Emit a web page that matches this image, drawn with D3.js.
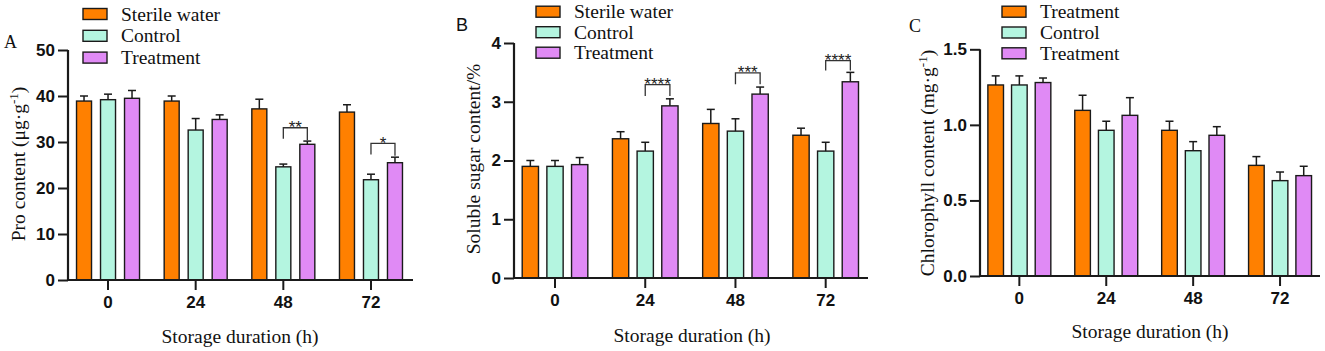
<!DOCTYPE html>
<html><head><meta charset="utf-8">
<script src="https://cdn.jsdelivr.net/npm/d3@7"></script>
<style>body{margin:0;background:#fff}svg{display:block}</style>
</head><body>
<svg id="chart" width="1325" height="351"></svg>
<script>
// ---------- DATA ----------
const categories = ["0", "24", "48", "72"];
const seriesKeys = ["s1", "s2", "s3"];
const legendAB = ["Sterile water", "Control", "Treatment"];
const legendC = ["Treatment", "Control", "Treatment"];
const colors = ["#FF8000", "#B4F5E0", "#E08AF5"];

// Panel A: Pro content
const proSterile = [38.9, 38.9, 37.2, 36.5];
const proSterileErr = [1.1, 1.1, 2.1, 1.6];
const proControl = [39.2, 32.6, 24.6, 21.8];
const proControlErr = [1.2, 2.5, 0.6, 1.2];
const proTreat = [39.5, 34.9, 29.5, 25.5];
const proTreatErr = [1.7, 1.0, 0.7, 1.2];
const proTicks = [0, 10, 20, 30, 40, 50];
// significance: [category, label, bracket top value, left leg bottom, right leg bottom]
const proSig = [["48", "**", 33.1, 30.7, 30.4], ["72", "*", 29.7, 27.3, 27.0]];

// Panel B: Soluble sugar
const sugarSterile = [1.90, 2.37, 2.63, 2.43];
const sugarSterileErr = [0.10, 0.12, 0.24, 0.12];
const sugarControl = [1.90, 2.16, 2.50, 2.16];
const sugarControlErr = [0.10, 0.15, 0.21, 0.15];
const sugarTreat = [1.93, 2.93, 3.13, 3.34];
const sugarTreatErr = [0.12, 0.12, 0.12, 0.16];
const sugarTicks = [0, 1, 2, 3, 4];
const sugarSig = [["24", "****", 3.29, 3.10, 3.10], ["48", "***", 3.49, 3.30, 3.30], ["72", "****", 3.70, 3.53, 3.53]];

// Panel C: Chlorophyll
const chlTreatA = [1.264, 1.096, 0.964, 0.732];
const chlTreatAErr = [0.06, 0.10, 0.06, 0.058];
const chlControl = [1.264, 0.964, 0.829, 0.631];
const chlControlErr = [0.06, 0.06, 0.06, 0.057];
const chlTreatB = [1.28, 1.063, 0.931, 0.664];
const chlTreatBErr = [0.03, 0.117, 0.057, 0.062];
const chlTicks = [0, 0.5, 1.0, 1.5];
const chlSig = [];

// ---------- DRAW ----------
const svg = d3.select("#chart");
const SERIF = "'Liberation Serif','Times New Roman',serif";
const SANS = "'Liberation Sans',Arial,sans-serif";
const INK = "#1a1a1a";

function panel(cfg) {
  const g = svg.append("g");
  const x = d3.scaleBand().domain(categories).range(cfg.xBand).paddingInner(0).paddingOuter(0);
  const sub = d3.scaleBand().domain(seriesKeys).range([-cfg.half, cfg.half]).paddingInner(cfg.pad).paddingOuter(cfg.pad / 2);
  const y = d3.scaleLinear().domain(cfg.yDomain).range(cfg.yRange);
  const cx = c => x(c) + x.bandwidth() / 2;

  // bars + error bars
  cfg.series.forEach((s, si) => {
    const key = seriesKeys[si];
    const data = categories.map((c, i) => ({c, v: s.v[i], e: s.e[i]}));
    const gs = g.append("g");
    gs.selectAll("rect").data(data).join("rect")
      .attr("x", d => cx(d.c) + sub(key))
      .attr("y", d => y(d.v))
      .attr("width", sub.bandwidth())
      .attr("height", d => y(0) - y(d.v))
      .attr("fill", colors[si]).attr("stroke", INK).attr("stroke-width", 1.4);
    gs.selectAll("line.eb").data(data).join("line").attr("class", "eb")
      .attr("x1", d => cx(d.c) + sub(key) + sub.bandwidth() / 2)
      .attr("x2", d => cx(d.c) + sub(key) + sub.bandwidth() / 2)
      .attr("y1", d => y(d.v)).attr("y2", d => y(d.v + d.e))
      .attr("stroke", INK).attr("stroke-width", 1.5);
    gs.selectAll("line.cap").data(data).join("line").attr("class", "cap")
      .attr("x1", d => cx(d.c) + sub(key) + sub.bandwidth() / 2 - 4)
      .attr("x2", d => cx(d.c) + sub(key) + sub.bandwidth() / 2 + 4)
      .attr("y1", d => y(d.v + d.e)).attr("y2", d => y(d.v + d.e))
      .attr("stroke", INK).attr("stroke-width", 1.5);
  });

  // significance brackets (between series 2 and 3)
  cfg.sig.forEach(([c, lab, top, lb, rb]) => {
    const xl = cx(c) + sub("s2") + sub.bandwidth() / 2;
    const xr = cx(c) + sub("s3") + sub.bandwidth() / 2;
    g.append("path")
      .attr("d", `M${xl},${y(lb)}V${y(top)}H${xr}V${y(rb)}`)
      .attr("fill", "none").attr("stroke", "#333").attr("stroke-width", 1.3);
    g.append("text").attr("x", (xl + xr) / 2).attr("y", y(top) + 5.5)
      .attr("text-anchor", "middle").attr("font-family", SANS).attr("font-size", 17)
      .attr("fill", "#222").text(lab);
  });

  // y axis
  const ya = g.append("g").attr("transform", `translate(${cfg.axisX},0)`)
    .call(d3.axisLeft(y).tickValues(cfg.ticks).tickFormat(cfg.fmt).tickSize(10).tickPadding(3));
  ya.select(".domain").attr("stroke", INK).attr("stroke-width", 2.2).attr("d", `M0,${cfg.yRange[0]}V${cfg.yRange[1]}`);
  ya.selectAll(".tick line").attr("stroke", INK).attr("stroke-width", 2);
  ya.selectAll(".tick text").attr("font-family", SANS).attr("font-weight", "bold").attr("font-size", 17).attr("fill", "#111");

  // x axis
  const xa = g.append("g").attr("transform", `translate(0,${cfg.yRange[0]})`)
    .call(d3.axisBottom(x).tickSize(10).tickPadding(6));
  xa.select(".domain").attr("stroke", INK).attr("stroke-width", 2.2).attr("d", `M${cfg.axisX},0H${cfg.axisEnd}`);
  xa.selectAll(".tick line").attr("stroke", INK).attr("stroke-width", 2);
  xa.selectAll(".tick text").attr("font-family", SANS).attr("font-weight", "bold").attr("font-size", 17).attr("fill", "#111");

  // x title
  g.append("text").attr("x", cfg.xTitleX).attr("y", cfg.xTitleY).attr("text-anchor", "middle")
    .attr("font-family", SERIF).attr("font-size", 19.5).attr("fill", "#111").text("Storage duration (h)");

  // y title
  const yt = g.append("text").attr("transform", `translate(${cfg.yTitleX},${cfg.yTitleY}) rotate(-90)`)
    .attr("text-anchor", "middle").attr("font-family", SERIF).attr("font-size", 19.5).attr("fill", "#111");
  yt.append("tspan").text(cfg.yTitle[0]);
  if (cfg.yTitle.length > 1) {
    yt.append("tspan").attr("dy", -7).attr("font-size", 13).text(cfg.yTitle[1]);
    yt.append("tspan").attr("dy", 7).text(cfg.yTitle[2]);
  }

  // panel letter
  g.append("text").attr("x", cfg.letterX).attr("y", cfg.letterY)
    .attr("font-family", cfg.letterFont).attr("font-size", 18).attr("fill", "#111").text(cfg.letter);

  // legend
  const lg = g.append("g");
  cfg.legend.forEach((name, i) => {
    const yy = cfg.legY + i * cfg.legStep;
    lg.append("rect").attr("x", cfg.legX).attr("y", yy - 5.5).attr("width", 24).attr("height", 11)
      .attr("fill", colors[i]).attr("stroke", INK).attr("stroke-width", 1.4);
    lg.append("text").attr("x", cfg.legX + 38).attr("y", yy + 6.5)
      .attr("font-family", SERIF).attr("font-size", 19.5).attr("fill", "#111").text(name);
  });
}

panel({
  xBand: [64.2, 414.8], half: 36, pad: 0.375, yDomain: [0, 50], yRange: [280, 50],
  axisX: 68, axisEnd: 413, ticks: proTicks, fmt: d3.format("d"),
  series: [{v: proSterile, e: proSterileErr}, {v: proControl, e: proControlErr}, {v: proTreat, e: proTreatErr}],
  sig: proSig, xTitleX: 240, xTitleY: 343,
  yTitle: ["Pro content (μg·g", "-1", ")"], yTitleX: 25, yTitleY: 164,
  letter: "A", letterX: 4, letterY: 48, letterFont: SERIF,
  legend: legendAB, legX: 83, legY: 14, legStep: 21.8
});

panel({
  xBand: [509.9, 870.8], half: 37, pad: 0.34, yDomain: [0, 4], yRange: [278, 43],
  axisX: 514, axisEnd: 868, ticks: sugarTicks, fmt: d3.format("d"),
  series: [{v: sugarSterile, e: sugarSterileErr}, {v: sugarControl, e: sugarControlErr}, {v: sugarTreat, e: sugarTreatErr}],
  sig: sugarSig, xTitleX: 692, xTitleY: 342,
  yTitle: ["Soluble sugar content/%"], yTitleX: 480, yTitleY: 159,
  letter: "B", letterX: 456, letterY: 31, letterFont: SANS,
  legend: legendAB, legX: 536, legY: 11.7, legStep: 20.5
});

panel({
  xBand: [975.9, 1323.5], half: 35.5, pad: 0.34, yDomain: [0, 1.5], yRange: [276, 49.3],
  axisX: 980, axisEnd: 1320, ticks: chlTicks, fmt: d3.format(".1f"),
  series: [{v: chlTreatA, e: chlTreatAErr}, {v: chlControl, e: chlControlErr}, {v: chlTreatB, e: chlTreatBErr}],
  sig: chlSig, xTitleX: 1150, xTitleY: 338,
  yTitle: ["Chlorophyll content  (mg·g", "-1", ")"], yTitleX: 934, yTitleY: 163,
  letter: "C", letterX: 909, letterY: 32, letterFont: SERIF,
  legend: legendC, legX: 1002, legY: 11.7, legStep: 20.8
});
</script>
</body></html>
